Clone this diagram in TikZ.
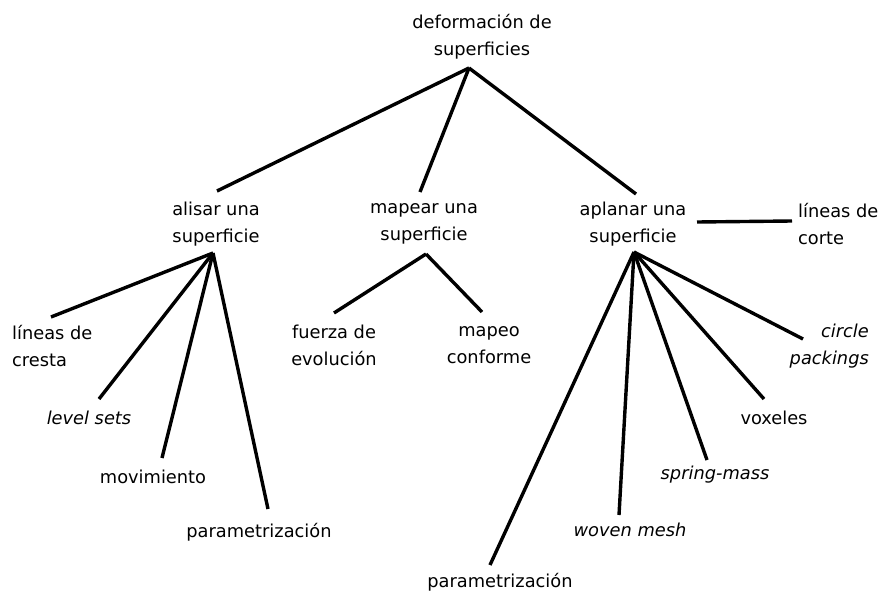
\documentclass[tikz,border=0pt]{standalone}
\usepackage{fontspec}
\setmainfont{DejaVu Sans}
\usepackage{tikz}
\usetikzlibrary{positioning}

\begin{document}
\begin{tikzpicture}[x=1pt,y=-1pt, every node/.style={font=\fontsize{17.8}{27}\selectfont,inner sep=0pt},
label/.style={align=center},
leaf/.style={align=center,font=\fontsize{17.8}{27}\selectfont\itshape},
branch/.style={line width=3.4pt,line cap=butt}]
\useasboundingbox (0,0) rectangle (884,591);
\node[label] (root) at (482,37) {deformación de\\superficies};
\node[label] (alisar) at (216,224) {alisar una\\superficie};
\node[label] (mapear) at (424,224) {mapear una\\superficie};
\node[label] (aplanar) at (633,224) {aplanar una\\superficie};
\node[label,align=left,anchor=west] (corte) at (798,224) {líneas de\\corte};
\node[label,align=left,anchor=west] (cresta) at (12,346) {líneas de\\cresta};
\node[leaf] (levelsets) at (89,418) {level sets};
\node[label] (movimiento) at (153,477) {movimiento};
\node[label] (param1) at (259,532) {parametrización};
\node[label] (fuerza) at (334,345) {fuerza de\\evolución};
\node[label] (mapeo) at (489,345) {mapeo\\conforme};
\node[leaf,align=right,anchor=east] (circle) at (869,346) {circle\\packings};
\node[label] (voxeles) at (774,418) {voxeles};
\node[leaf] (springmass) at (715,475) {spring-mass};
\node[leaf] (woven) at (630,530) {woven mesh};
\node[label] (param2) at (500,582) {parametrización};
% line ends
\coordinate (root-b) at (469,68);
\coordinate (alisar-t) at (217,191);\coordinate (alisar-b) at (213,253);
\coordinate (mapear-t) at (420,192);\coordinate (mapear-b) at (426,254);
\coordinate (aplanar-t) at (636,194);\coordinate (aplanar-b) at (634,252);
\coordinate (aplanar-r) at (697,222);\coordinate (corte-l) at (792,221);
\coordinate (cresta-t) at (51,317);\coordinate (levelsets-t) at (99,399);
\coordinate (movimiento-t) at (162,458);\coordinate (param1-t) at (268,509);
\coordinate (fuerza-t) at (334,313);\coordinate (mapeo-t) at (482,312);
\coordinate (circle-t) at (803,339);\coordinate (voxeles-t) at (764,399);
\coordinate (springmass-t) at (707,460);\coordinate (woven-t) at (619,515);
\coordinate (param2-t) at (490,565);
\draw[branch] (root-b)--(alisar-t);\draw[branch] (root-b)--(mapear-t);\draw[branch] (root-b)--(aplanar-t);
\draw[branch] (alisar-b)--(cresta-t);\draw[branch] (alisar-b)--(levelsets-t);
\draw[branch] (alisar-b)--(movimiento-t);\draw[branch] (alisar-b)--(param1-t);
\draw[branch] (mapear-b)--(fuerza-t);\draw[branch] (mapear-b)--(mapeo-t);
\draw[branch] (aplanar-r)--(corte-l);
\draw[branch] (aplanar-b)--(param2-t);\draw[branch] (aplanar-b)--(woven-t);
\draw[branch] (aplanar-b)--(springmass-t);\draw[branch] (aplanar-b)--(voxeles-t);
\draw[branch] (aplanar-b)--(circle-t);
\end{tikzpicture}
\end{document}
